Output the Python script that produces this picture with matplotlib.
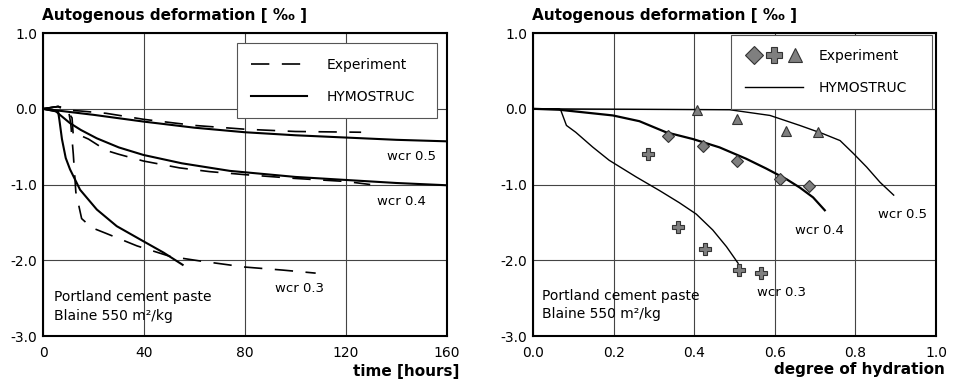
import numpy as np
import matplotlib
matplotlib.use("Agg")
import matplotlib.pyplot as plt
from matplotlib.lines import Line2D
from matplotlib.legend_handler import HandlerTuple

plt.rcParams['font.family'] = ['DejaVu Sans']
plt.rcParams['font.size'] = 10

# ---- left panel: deformation vs time ----
t_exp_05 = [0, 6, 10, 15, 25, 40, 60, 80, 100, 126]
e_exp_05 = [0, 0.03, -0.02, -0.03, -0.06, -0.14, -0.22, -0.27, -0.30, -0.31]
t_sim_05 = [0, 10, 20, 40, 60, 80, 100, 120, 140, 160]
e_sim_05 = [0, -0.04, -0.08, -0.17, -0.25, -0.31, -0.35, -0.38, -0.41, -0.43]

t_exp_04 = [0, 6, 10, 11.5, 12, 15.3, 18, 21.3, 25, 29.9, 39.8, 54, 66, 80, 100, 120, 129.6]
e_exp_04 = [0, 0.03, -0.05, -0.12, -0.36, -0.36, -0.40, -0.47, -0.55, -0.60, -0.69, -0.78, -0.83,
            -0.87, -0.92, -0.96, -1.0]
t_sim_04 = [0, 5, 6.7, 10.7, 15, 21.3, 30, 39.8, 55, 74, 100, 120, 140, 160]
e_sim_04 = [0, -0.03, -0.08, -0.19, -0.28, -0.39, -0.51, -0.61, -0.72, -0.82, -0.90, -0.94, -0.98, -1.01]

t_exp_03 = [0, 6, 10, 11, 12, 13, 15.3, 19.3, 24.6, 37.2, 50.4, 62.3, 80, 95, 108]
e_exp_03 = [0, 0.03, 0.0, -0.2, -0.6, -1.1, -1.45, -1.57, -1.64, -1.81, -1.95, -2.01, -2.09, -2.13, -2.17]
t_sim_03 = [0, 6, 6.5, 7.5, 9, 10.7, 14.7, 21.3, 29.2, 39.8, 47.8, 55.3]
e_sim_03 = [0, -0.04, -0.15, -0.4, -0.65, -0.80, -1.07, -1.33, -1.55, -1.75, -1.9, -2.06]

# ---- right panel: deformation vs degree of hydration ----
a_dia = [0.334, 0.423, 0.507, 0.614, 0.685]
e_dia = [-0.365, -0.49, -0.69, -0.93, -1.015]
a_plus = [0.286, 0.360, 0.427, 0.510, 0.567]
e_plus = [-0.593, -1.565, -1.846, -2.13, -2.17]
a_tri = [0.407, 0.505, 0.628, 0.708]
e_tri = [-0.02, -0.13, -0.29, -0.31]

a_sim_03 = [0, 0.065, 0.069, 0.083, 0.106, 0.148, 0.189, 0.256, 0.314, 0.363, 0.405, 0.446, 0.480, 0.509]
d_sim_03 = [0, 0, -0.02, -0.22, -0.31, -0.505, -0.68, -0.90, -1.08, -1.24, -1.39, -1.6, -1.82, -2.04]
a_sim_04 = [0, 0.065, 0.198, 0.264, 0.330, 0.397, 0.463, 0.529, 0.579, 0.629, 0.662, 0.695, 0.724]
d_sim_04 = [0, -0.013, -0.088, -0.164, -0.31, -0.40, -0.51, -0.66, -0.79, -0.93, -1.04, -1.17, -1.34]
a_sim_05 = [0, 0.488, 0.588, 0.662, 0.720, 0.762, 0.795, 0.828, 0.861, 0.895]
d_sim_05 = [0, -0.013, -0.088, -0.22, -0.33, -0.42, -0.59, -0.77, -0.97, -1.14]

wcr_labels = ["wcr 0.5", "wcr 0.4", "wcr 0.3"]
note = "Portland cement paste\nBlaine 550 m\u00b2/kg"

fig = plt.figure(figsize=(9.6, 3.84), dpi=100)
ax1 = fig.add_axes([0.0448, 0.125, 0.4208, 0.789])
ax2 = fig.add_axes([0.5552, 0.125, 0.4198, 0.789])

dash_kw = dict(color='black', lw=1.2, dashes=(11, 7.5))
sol_kw = dict(color='black', lw=1.5)

for ax in (ax1, ax2):
    ax.set_ylim(-3, 1)
    ax.set_yticks([-3, -2, -1, 0, 1])
    ax.set_yticklabels(["-3.0", "-2.0", "-1.0", "0.0", "1.0"])
    ax.grid(True, color='#444444', lw=0.8)
    ax.set_axisbelow(True)
    ax.tick_params(length=0)
    ax.tick_params(axis='y', pad=4)
    ax.tick_params(axis='x', pad=7)
    for s in ax.spines.values():
        s.set_linewidth(1.5)

# left
ax1.plot(t_exp_05, e_exp_05, **dash_kw)
ax1.plot(t_exp_04, e_exp_04, **dash_kw)
ax1.plot(t_exp_03, e_exp_03, **dash_kw)
ax1.plot(t_sim_05, e_sim_05, **sol_kw)
ax1.plot(t_sim_04, e_sim_04, **sol_kw)
ax1.plot(t_sim_03, e_sim_03, **sol_kw)
ax1.set_xlim(0, 160)
ax1.set_xticks([0, 40, 80, 120, 160])

ax1.text(136.1, -0.63, wcr_labels[0], va='center', fontsize=9.5)
ax1.text(132.2, -1.22, wcr_labels[1], va='center', fontsize=9.5)
ax1.text(91.9, -2.37, wcr_labels[2], va='center', fontsize=9.5)
ax1.text(4.4, -2.61, note, va='center', fontsize=10, linespacing=1.4)

h1 = [Line2D([], [], **dash_kw), Line2D([], [], **sol_kw)]
leg1 = ax1.legend(h1, ["Experiment", "HYMOSTRUC"], loc='upper left', mode='expand',
                  bbox_to_anchor=(0.48, 0.7225, 0.496, 0.244), frameon=True, fancybox=False,
                  edgecolor='#555555', framealpha=1, handlelength=4.0,
                  handletextpad=1.4, labelspacing=1.3, borderpad=1.05,
                  borderaxespad=0)
leg1.get_frame().set_linewidth(0.8)

# right
mk = dict(linestyle='none', markerfacecolor='#7f7f7f', markeredgecolor='#333333', mew=0.8)
ax2.plot(a_sim_03, d_sim_03, color='black', lw=1.0)
ax2.plot(a_sim_04, d_sim_04, color='black', lw=1.6)
ax2.plot(a_sim_05, d_sim_05, color='black', lw=1.0)
ax2.plot(a_dia, e_dia, marker='D', ms=6.5, **mk)
ax2.plot(a_plus, e_plus, marker='P', ms=8.5, **mk)
ax2.plot(a_tri, e_tri, marker='^', ms=7, **mk)
ax2.set_xlim(0, 1)
ax2.set_xticks([0, 0.2, 0.4, 0.6, 0.8, 1.0])
ax2.set_xticklabels(["0.0", "0.2", "0.4", "0.6", "0.8", "1.0"])

ax2.text(0.856, -1.39, wcr_labels[0], va='center', fontsize=9.5)
ax2.text(0.649, -1.61, wcr_labels[1], va='center', fontsize=9.5)
ax2.text(0.555, -2.42, wcr_labels[2], va='center', fontsize=9.5)
ax2.text(0.022, -2.59, note, va='center', fontsize=10, linespacing=1.4)

h_exp = (Line2D([], [], marker='D', ms=9, **mk),
         Line2D([], [], marker='P', ms=12, **mk),
         Line2D([], [], marker='^', ms=10, **mk))
h2 = [h_exp, Line2D([], [], color='black', lw=1.0)]
leg2 = ax2.legend(h2, ["Experiment", "HYMOSTRUC"], loc='upper left', mode='expand',
                  bbox_to_anchor=(0.492, 0.75, 0.498, 0.2425), frameon=True, fancybox=False,
                  edgecolor='#555555', framealpha=1, handlelength=4.2,
                  handletextpad=1.1, labelspacing=1.3, borderpad=1.0,
                  borderaxespad=0,
                  handler_map={tuple: HandlerTuple(ndivide=None, pad=0.2)})
leg2.get_frame().set_linewidth(0.8)

# titles and axis labels
fig.text(0.044, 0.948, "Autogenous deformation [ \u2030 ]", fontsize=11, fontweight='bold')
fig.text(0.554, 0.948, "Autogenous deformation [ \u2030 ]", fontsize=11, fontweight='bold')
fig.text(0.479, 0.020, "time [hours]", ha='right', fontsize=11, fontweight='bold')
fig.text(0.984, 0.026, "degree of hydration", ha='right', fontsize=11, fontweight='bold')

fig.savefig("out.png", dpi=100)
